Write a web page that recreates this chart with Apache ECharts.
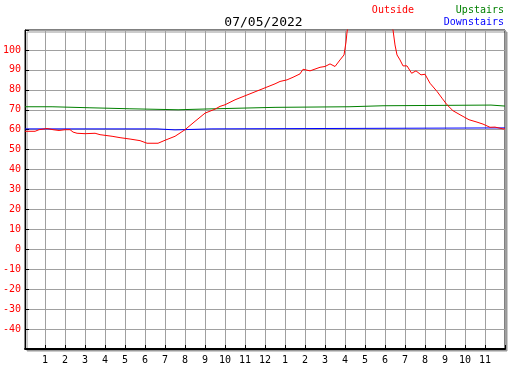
<!DOCTYPE html>
<html>
<head>
<meta charset="utf-8">
<title>07/05/2022</title>
<script src="https://cdn.jsdelivr.net/npm/echarts@6/dist/echarts.min.js"></script>
<style>
	html, body { margin: 0; padding: 0; background: #fff; }
	#chart { width: 527px; height: 370px; }
</style>
</head>
<body>
<div id="chart"></div>
<script>
// 标题和图例文字
var dateTitle = '07/05/2022';
var seriesNames = ['Outside', 'Upstairs', 'Downstairs'];

// 室外温度 (小时, 数值)
var outsideHours = [0, 0.5, 0.7, 1.1, 1.4, 1.7, 2.0, 2.25, 2.4, 2.6, 3.0, 3.5, 3.75, 4.35, 4.75, 5.25, 5.75, 6.1, 6.65,
	7.0, 7.5, 8.0, 8.5, 9.0, 9.5, 9.75, 10.0, 10.5, 11.0, 11.5, 12.0, 12.5, 12.75, 13.1, 13.4, 13.75, 13.9, 14.25,
	14.75, 15.0, 15.25, 15.5, 15.75, 15.95, 16.05, 16.1, 16.2, 17.0, 18.0, 18.3, 18.4, 18.5, 18.6, 18.75, 18.9,
	19.1, 19.33, 19.55, 19.8, 20.0, 20.25, 20.6, 20.85, 21.1, 21.4, 21.75, 22.2, 22.6, 22.9, 23.25, 23.5, 23.85, 24];
var outsideTemps = [59.2, 59.2, 60, 60.6, 60, 59.6, 60, 60, 58.8, 58.2, 58, 58.2, 57.5, 56.7, 56, 55.3, 54.5, 53.2, 53.2,
	54.7, 56.7, 60, 64.2, 68.3, 70.3, 71.7, 72.5, 75, 77, 79, 81, 83, 84.2, 85, 86.3, 88, 90.3, 89.5,
	91.3, 91.7, 93, 91.7, 95, 97.5, 104, 109, 115, 125, 120, 113, 110, 102.5, 97.5, 95, 92,
	92, 88.3, 89.5, 87.5, 87.8, 83.3, 79.2, 75.8, 72.5, 69.5, 67.5, 65, 63.8, 62.8, 61.2, 61.3, 60.5, 60.3];

// 楼上温度
var upstairsHours = [0, 1.35, 3.2, 5.2, 7.65, 9.15, 9.2, 12.5, 16.2, 17.9, 23.3, 24];
var upstairsTemps = [71.5, 71.0, 70.5, 70.0, 70.4, 70.9, 71.2, 71.5, 72.0, 72.35, 71.85, 71.85];

// 楼下温度
var downstairsHours = [0, 6.6, 7.5, 9.3, 24];
var downstairsTemps = [60.4, 59.9, 60.4, 60.9, 60.9];

// y轴刻度
var yMin = -50, yMax = 110, yStep = 10;

function pairs(xs, ys) {
	var out = [];
	for (var i = 0; i < xs.length; i++) {
		out.push([xs[i], ys[i]]);
	}
	return out;
}

var mono = 'DejaVu Sans Mono';
var myChart = echarts.init(document.getElementById('chart'));
var option = {
	animation: false,
	backgroundColor: '#fff',
	title: {
		text: dateTitle,
		left: 'center',
		top: 11,
		textStyle: { fontFamily: mono, fontSize: 13, fontWeight: 'normal', color: '#000' }
	},
	graphic: [
		{ type: 'text', right: 113, top: 5, style: { text: seriesNames[0], fill: '#ff0000', font: '10px ' + mono } },
		{ type: 'text', right: 23, top: 5, style: { text: seriesNames[1], fill: '#008000', font: '10px ' + mono } },
		{ type: 'text', right: 23, top: 17, style: { text: seriesNames[2], fill: '#0000ff', font: '10px ' + mono } }
	],
	grid: {
		left: 25,
		top: 30,
		right: 22,
		bottom: 21,
		show: true,
		backgroundColor: '#fff',
		borderColor: '#000',
		borderWidth: 1,
		shadowColor: '#999',
		shadowOffsetX: 2,
		shadowOffsetY: 2,
		shadowBlur: 0
	},
	xAxis: {
		type: 'value',
		min: 0,
		max: 24,
		interval: 1,
		axisLine: { show: true, onZero: false, lineStyle: { color: '#000', width: 2 } },
		axisTick: { show: true, inside: true, length: 4, lineStyle: { color: '#000' } },
		splitLine: { show: true, lineStyle: { color: '#a0a0a0', width: 1 } },
		axisLabel: {
			margin: 6,
			color: '#000',
			fontFamily: mono,
			fontSize: 10,
			formatter: function(v) {
				if (v <= 0 || v >= 24) return '';
				if (v == 12) return '12';
				return String(v % 12);
			}
		}
	},
	yAxis: {
		type: 'value',
		min: yMin,
		max: yMax,
		interval: yStep,
		axisLine: { show: true, lineStyle: { color: '#000', width: 1 } },
		axisTick: { show: true, inside: true, length: 4, lineStyle: { color: '#000' } },
		splitLine: { show: true, lineStyle: { color: '#a0a0a0', width: 1 } },
		axisLabel: {
			margin: 4,
			color: '#ff0000',
			fontFamily: mono,
			fontSize: 10,
			formatter: function(v) {
				if (v <= yMin || v >= yMax) return '';
				return String(v);
			}
		}
	},
	series: [
		{
			name: seriesNames[1],
			type: 'line',
			step: 'end',
			symbol: 'none',
			clip: true,
			data: pairs(upstairsHours, upstairsTemps),
			lineStyle: { color: '#008000', width: 1 }
		},
		{
			name: seriesNames[2],
			type: 'line',
			step: 'end',
			symbol: 'none',
			clip: true,
			data: pairs(downstairsHours, downstairsTemps),
			lineStyle: { color: '#0000ff', width: 1 }
		},
		{
			name: seriesNames[0],
			type: 'line',
			symbol: 'none',
			clip: true,
			data: pairs(outsideHours, outsideTemps),
			lineStyle: { color: '#ff0000', width: 1 }
		}
	]
};
myChart.setOption(option);
</script>
</body>
</html>
